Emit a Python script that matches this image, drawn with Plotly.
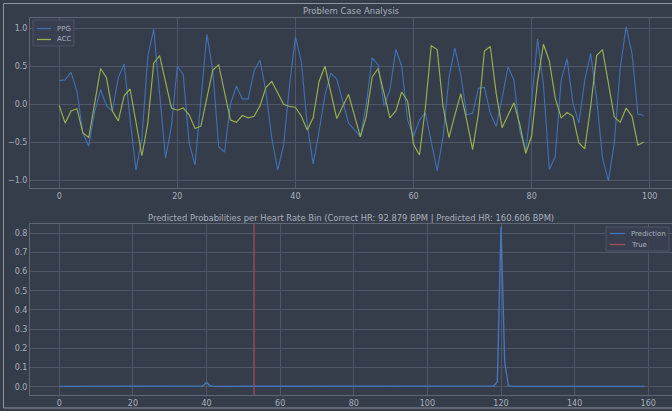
import plotly.graph_objects as go

# ---------------- data ----------------
sample_idx = list(range(100))
ppg = [0.31, 0.32, 0.42, 0.17, -0.38, -0.55, -0.10, 0.19, -0.02, -0.09,
       0.35, 0.53, -0.20, -0.87, -0.45, 0.63, 0.99, 0.10, -0.71, -0.29,
       0.50, 0.39, -0.51, -0.80, 0.03, 0.92, 0.45, -0.56, -0.63, 0.00,
       0.24, 0.07, 0.07, 0.44, 0.58, 0.17, -0.45, -0.87, -0.54, 0.25,
       0.89, 0.56, -0.27, -0.79, -0.36, 0.12, 0.41, 0.33, 0.04, -0.25,
       -0.34, -0.43, 0.00, 0.61, 0.52, -0.02, 0.19, 0.72, 0.50, -0.21,
       -0.43, -0.21, -0.11, -0.51, -0.88, -0.43, 0.35, 0.74, 0.39, -0.14,
       -0.12, 0.21, 0.22, -0.12, -0.29, 0.08, 0.49, 0.32, -0.36, -0.62,
       0.04, 0.86, 0.25, -0.86, -0.69, 0.32, 0.60, 0.01, -0.25, 0.32,
       0.67, 0.08, -0.71, -1.01, -0.51, 0.47, 1.02, 0.67, -0.13, -0.15]
acc = [-0.02, -0.25, -0.09, -0.06, -0.38, -0.44, 0.01, 0.47, 0.35, -0.09,
       -0.22, 0.11, 0.20, -0.27, -0.68, -0.25, 0.54, 0.64, 0.30, -0.05,
       -0.08, -0.05, -0.14, -0.32, -0.29, 0.08, 0.45, 0.52, 0.17, -0.21,
       -0.24, -0.15, -0.18, -0.16, -0.02, 0.22, 0.30, 0.14, 0.00, -0.03,
       -0.04, -0.16, -0.34, -0.18, 0.30, 0.50, 0.16, -0.19, -0.03, 0.13,
       -0.15, -0.43, -0.16, 0.36, 0.47, 0.14, -0.18, -0.09, 0.16, 0.04,
       -0.53, -0.67, -0.05, 0.77, 0.72, -0.03, -0.44, -0.14, 0.14, -0.21,
       -0.60, -0.12, 0.70, 0.76, 0.14, -0.31, -0.15, 0.02, -0.27, -0.65,
       -0.42, 0.30, 0.79, 0.57, 0.08, -0.18, -0.11, -0.16, -0.51, -0.59,
       -0.03, 0.64, 0.72, 0.25, -0.17, -0.24, -0.05, -0.16, -0.54, -0.50]

hr_bins = list(range(160))
pred_prob = [
    0.002, 0.002, 0.002, 0.002, 0.002, 0.002, 0.002, 0.002, 0.002, 0.002,
    0.002, 0.002, 0.002, 0.002, 0.002, 0.002, 0.002, 0.002, 0.002, 0.002,
    0.002, 0.002, 0.002, 0.002, 0.002, 0.002, 0.002, 0.002, 0.002, 0.002,
    0.002, 0.002, 0.002, 0.002, 0.002, 0.002, 0.002, 0.002, 0.002, 0.004,
    0.022, 0.004, 0.002, 0.002, 0.002, 0.002, 0.002, 0.002, 0.002, 0.002,
    0.002, 0.002, 0.002, 0.002, 0.002, 0.002, 0.002, 0.002, 0.002, 0.002,
    0.002, 0.002, 0.002, 0.002, 0.002, 0.002, 0.002, 0.002, 0.002, 0.002,
    0.002, 0.002, 0.002, 0.002, 0.002, 0.002, 0.002, 0.002, 0.002, 0.002,
    0.002, 0.002, 0.002, 0.002, 0.002, 0.002, 0.002, 0.002, 0.002, 0.002,
    0.002, 0.002, 0.002, 0.002, 0.002, 0.002, 0.002, 0.002, 0.002, 0.002,
    0.002, 0.002, 0.002, 0.002, 0.002, 0.002, 0.002, 0.002, 0.002, 0.002,
    0.002, 0.002, 0.002, 0.002, 0.002, 0.002, 0.002, 0.002, 0.004, 0.025,
    0.835, 0.130, 0.005, 0.002, 0.002, 0.002, 0.002, 0.002, 0.002, 0.002,
    0.002, 0.002, 0.002, 0.002, 0.002, 0.002, 0.002, 0.002, 0.002, 0.002,
    0.002, 0.002, 0.002, 0.002, 0.002, 0.002, 0.002, 0.002, 0.002, 0.002,
    0.002, 0.002, 0.002, 0.002, 0.002, 0.002, 0.002, 0.002, 0.002, 0.002,
]
true_bin = 52.9
top_title = "Problem Case Analysis"
bottom_title = "Predicted Probabilities per Heart Rate Bin (Correct HR: 92.879 BPM | Predicted HR: 160.606 BPM)"
top_legend_labels = ["PPG", "ACC"]
bottom_legend_labels = ["Prediction", "True"]

# ---------------- style ----------------
BG = "#353c4a"
GRID = "#4f5768"
SPINE = "#5f6777"
TXT = "#aab1bd"
PPG_C = "#416fb3"
ACC_C = "#9bb14e"
PRED_C = "#4674bd"
TRUE_C = "#a94d5a"
FONT = "DejaVu Sans"
LEG_BG = "rgba(57,64,79,0.92)"
LEG_EDGE = "#4c5465"

fig = go.Figure()
fig.add_trace(go.Scatter(x=sample_idx, y=ppg, mode="lines", name=top_legend_labels[0],
                         line=dict(color=PPG_C, width=1.15), xaxis="x", yaxis="y"))
fig.add_trace(go.Scatter(x=sample_idx, y=acc, mode="lines", name=top_legend_labels[1],
                         line=dict(color=ACC_C, width=1.15), xaxis="x", yaxis="y"))
fig.add_trace(go.Scatter(x=hr_bins, y=pred_prob, mode="lines", name=bottom_legend_labels[0],
                         line=dict(color=PRED_C, width=1.4), xaxis="x2", yaxis="y2"))
fig.add_trace(go.Scatter(x=[true_bin, true_bin], y=[-0.043, 0.848], mode="lines",
                         name=bottom_legend_labels[1],
                         line=dict(color=TRUE_C, width=1.2), xaxis="x2", yaxis="y2"))

ax_common = dict(showgrid=True, gridcolor=GRID, gridwidth=1, zeroline=False,
                 showline=True, linecolor=SPINE, linewidth=1, mirror=True,
                 ticks="", tickfont=dict(size=8, color=TXT, family=FONT))

W, H = 672, 411
L, R, T, B = 30, 0, 18, 16
PW, PH = W - L - R, H - T - B


def px_x(px):
    return (px - L) / PW


def px_y(py):
    return (H - B - py) / PH


shapes = [
    dict(type="rect", xref="paper", yref="paper",
         x0=px_x(3.5), x1=px_x(680), y0=px_y(408), y1=px_y(3.5),
         line=dict(color="#8e949c", width=1), fillcolor="rgba(0,0,0,0)", layer="below"),
]
annotations = [
    dict(text=top_title, xref="paper", yref="paper", x=0.5, y=px_y(11),
         xanchor="center", yanchor="middle", showarrow=False,
         font=dict(size=8.5, color=TXT, family=FONT)),
    dict(text=bottom_title, xref="paper", yref="paper", x=0.5, y=px_y(218),
         xanchor="center", yanchor="middle", showarrow=False,
         font=dict(size=8.4, color=TXT, family=FONT)),
]

# manual legends (matplotlib-like compact boxes)
legends = [
    dict(box=(33, 74, 20, 46), line_x=(37, 51), text_x=55, rows=[28.5, 39.5],
         labels=top_legend_labels, colors=[PPG_C, ACC_C]),
    dict(box=(606, 669, 227, 251), line_x=(610, 625), text_x=629, rows=[233.5, 244.5],
         labels=bottom_legend_labels, colors=[PRED_C, TRUE_C]),
]
for lg in legends:
    bx0, bx1, by0, by1 = lg["box"]
    shapes.append(dict(type="rect", xref="paper", yref="paper",
                       x0=px_x(bx0), x1=px_x(bx1), y0=px_y(by1), y1=px_y(by0),
                       line=dict(color=LEG_EDGE, width=1), fillcolor=LEG_BG, layer="above"))
    for row, lab, col in zip(lg["rows"], lg["labels"], lg["colors"]):
        shapes.append(dict(type="line", xref="paper", yref="paper",
                           x0=px_x(lg["line_x"][0]), x1=px_x(lg["line_x"][1]),
                           y0=px_y(row), y1=px_y(row),
                           line=dict(color=col, width=1.3), layer="above"))
        annotations.append(dict(text=lab, xref="paper", yref="paper",
                                x=px_x(lg["text_x"]), y=px_y(row),
                                xanchor="left", yanchor="middle", showarrow=False,
                                font=dict(size=7, color=TXT, family=FONT)))

fig.update_layout(
    width=W, height=H,
    margin=dict(l=L, r=R, t=T, b=B, autoexpand=False),
    paper_bgcolor=BG, plot_bgcolor=BG,
    font=dict(family=FONT, color=TXT, size=8),
    showlegend=False,
    xaxis=dict(domain=[0, 1], anchor="y", range=[-4.95, 103.77],
               tickvals=[0, 20, 40, 60, 80, 100], **ax_common),
    yaxis=dict(domain=[px_y(188), 1.0], anchor="x", range=[-1.105, 1.136],
               tickvals=[-1.0, -0.5, 0.0, 0.5, 1.0], tickformat=".1f", **ax_common),
    xaxis2=dict(domain=[0, 1], anchor="y2", range=[-7.95, 166.45],
                tickvals=[0, 20, 40, 60, 80, 100, 120, 140, 160], **ax_common),
    yaxis2=dict(domain=[0.0, px_y(224)], anchor="x2", range=[-0.043, 0.848],
                tickvals=[0.0, 0.1, 0.2, 0.3, 0.4, 0.5, 0.6, 0.7, 0.8], tickformat=".1f",
                **ax_common),
    annotations=annotations,
    shapes=shapes,
)

fig.write_html("out.html",
               config={"displayModeBar": False},
               post_script="document.body.style.margin='0px';document.body.style.overflow='hidden';document.body.style.background='%s';" % BG)
